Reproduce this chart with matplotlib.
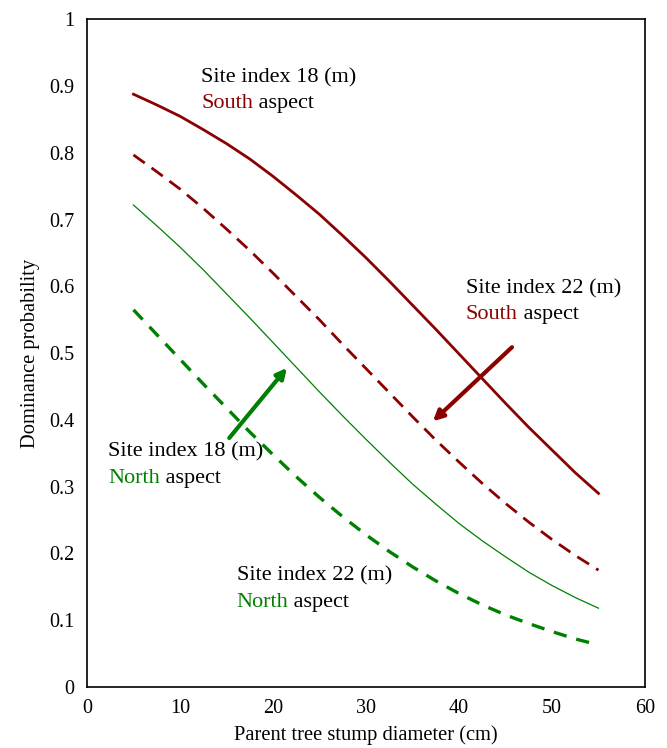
import numpy as np
import matplotlib.pyplot as plt
from matplotlib.ticker import FuncFormatter

plt.rcParams['font.family'] = ['Liberation Serif', 'DejaVu Serif']

# stump diameter (cm)
diameter = [5, 7.5, 10, 12.5, 15, 17.5, 20, 22.5, 25, 27.5, 30,
            32.5, 35, 37.5, 40, 42.5, 45, 47.5, 50, 52.5, 55]
# dominance probability
si18_south = [0.888, 0.872, 0.855, 0.835, 0.814, 0.791, 0.765, 0.737, 0.708, 0.676, 0.643,
              0.608, 0.572, 0.536, 0.499, 0.462, 0.425, 0.389, 0.355, 0.321, 0.290]
si22_south = [0.797, 0.772, 0.746, 0.717, 0.686, 0.654, 0.620, 0.585, 0.550, 0.513, 0.477,
              0.441, 0.405, 0.370, 0.337, 0.305, 0.275, 0.247, 0.221, 0.197, 0.175]
si18_north = [0.722, 0.691, 0.659, 0.625, 0.589, 0.553, 0.516, 0.479, 0.442, 0.406, 0.371,
              0.337, 0.304, 0.274, 0.245, 0.219, 0.195, 0.172, 0.152, 0.134, 0.118]
si22_north = [0.565, 0.528, 0.491, 0.454, 0.418, 0.382, 0.348, 0.315, 0.284, 0.255, 0.228,
              0.203, 0.180, 0.159, 0.140, 0.123, 0.108, 0.095, 0.083, 0.072, 0.063]

red = '#8B0000'
green = '#008000'

fig = plt.figure(figsize=(6.67, 7.48), dpi=100)
ax = fig.add_axes([0.1304, 0.0816, 0.8366, 0.8924])

ax.plot(diameter, si18_south, color=red, lw=2.0)
ax.plot(diameter, si22_south, color=red, lw=2.0, dashes=(5, 3))
ax.plot(diameter, si18_north, color=green, lw=0.9)
ax.plot(diameter, si22_north, color=green, lw=2.4, dashes=(4, 3))

ax.set_xlim(0, 60)
ax.set_ylim(0, 1)
ax.set_xticks(range(0, 61, 10))
ax.set_yticks(np.arange(0, 1.01, 0.1))
ax.yaxis.set_major_formatter(FuncFormatter(lambda v, p: '%g' % round(v, 1)))
ax.tick_params(length=0, labelsize=14.5, pad=9)
for s in ax.spines.values():
    s.set_linewidth(1.2)

ax.set_xlabel('Parent tree stump diameter (cm)', fontsize=14.8, labelpad=5)
ax.set_ylabel('Dominance probability', fontsize=14.8, labelpad=7)

def label(x, y, head, word, col):
    ax.text(x, y, head, fontsize=16, va='center', ha='left')
    t = ax.text(x, y - 0.039, word, fontsize=16, va='center', ha='left', color=col)
    ax.annotate(' aspect', xy=(1, 0.5), xycoords=t, va='center', ha='left', fontsize=16)

label(12.3, 0.913, 'Site index 18 (m)', 'South', red)
label(40.75, 0.597, 'Site index 22 (m)', 'South', red)
label(2.25, 0.352, 'Site index 18 (m)', 'North', green)
label(16.1, 0.166, 'Site index 22 (m)', 'North', green)

ax.annotate('', xy=(37.2, 0.398), xytext=(45.7, 0.509),
            arrowprops=dict(arrowstyle='-|>', color=red, lw=3, mutation_scale=15,
                            shrinkA=0, shrinkB=0))
ax.annotate('', xy=(21.5, 0.478), xytext=(15.3, 0.373),
            arrowprops=dict(arrowstyle='-|>', color=green, lw=3, mutation_scale=15,
                            shrinkA=0, shrinkB=0))

fig.savefig('out.png', dpi=100)
